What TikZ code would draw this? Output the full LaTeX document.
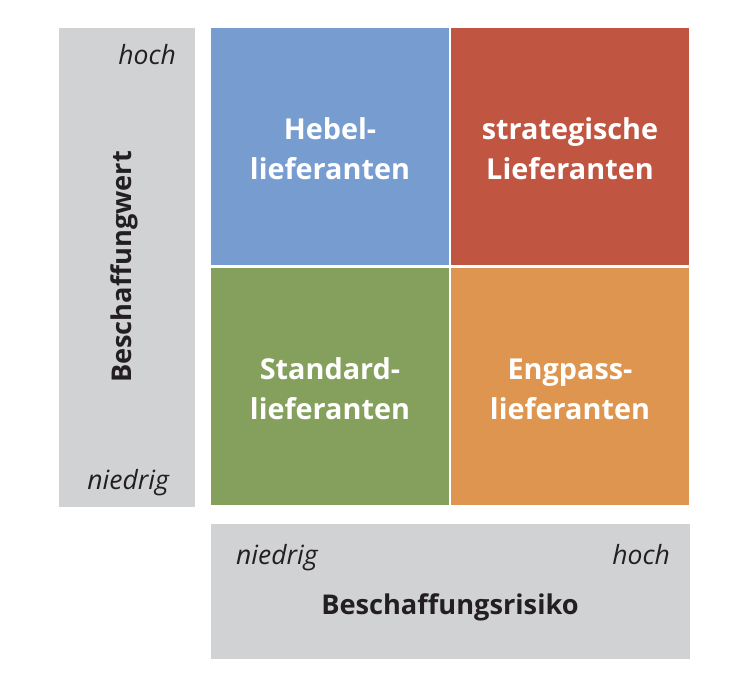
\documentclass[tikz,border=0pt]{standalone}
\usepackage{fontspec}
\setmainfont{Open Sans}
\begin{document}
\begin{tikzpicture}[x=1pt,y=-1pt,
  quad/.style={inner sep=0pt, text=white, align=center,
    font=\fontsize{28.8}{40}\selectfont\bfseries},
  axisbox/.style={fill=axisgray, draw=none},
  lvl/.style={inner sep=0pt, text=labeltext, font=\fontsize{26.5}{30}\selectfont\itshape},
  axistitle/.style={inner sep=0pt, text=labeltext, font=\fontsize{27.2}{32}\selectfont\bfseries}]
\definecolor{axisgray}{HTML}{D1D2D4}
\definecolor{labeltext}{HTML}{231F20}
\definecolor{qblue}{HTML}{779CD0}
\definecolor{qred}{HTML}{C05642}
\definecolor{qgreen}{HTML}{84A05C}
\definecolor{qorange}{HTML}{DE954F}
\useasboundingbox (0,0) rectangle (756,684);
% axis boxes
\fill[axisbox] (59,28) rectangle (195,507);
\fill[axisbox] (211,524) rectangle (690,659);
% quadrants
\fill[qblue] (211,28) rectangle (449,265);
\fill[qred] (451,28) rectangle (689,265);
\fill[qgreen] (211,268) rectangle (449,505);
\fill[qorange] (451,268) rectangle (689,505);
% quadrant labels
\node[quad] (hebel) at (330,149) {Hebel-\\lieferanten};
\node[quad] (strat) at (570,149) {strategische\\Lieferanten};
\node[quad] (std) at (330,389) {Standard-\\lieferanten};
\node[quad] (eng) at (570,389) {Engpass-\\lieferanten};
% vertical axis
\node[axistitle, rotate=90] (wert) at (124,267) {Beschaffungwert};
\node[lvl, anchor=base east] (vhoch) at (176,65) {hoch};
\node[lvl, anchor=base east] (vniedrig) at (169,490) {niedrig};
% horizontal axis
\node[lvl, anchor=base west] (hniedrig) at (236,565) {niedrig};
\node[lvl, anchor=base east] (hhoch) at (670,565) {hoch};
\node[axistitle, anchor=base] (risiko) at (450,615) {Beschaffungsrisiko};
\end{tikzpicture}
\end{document}
